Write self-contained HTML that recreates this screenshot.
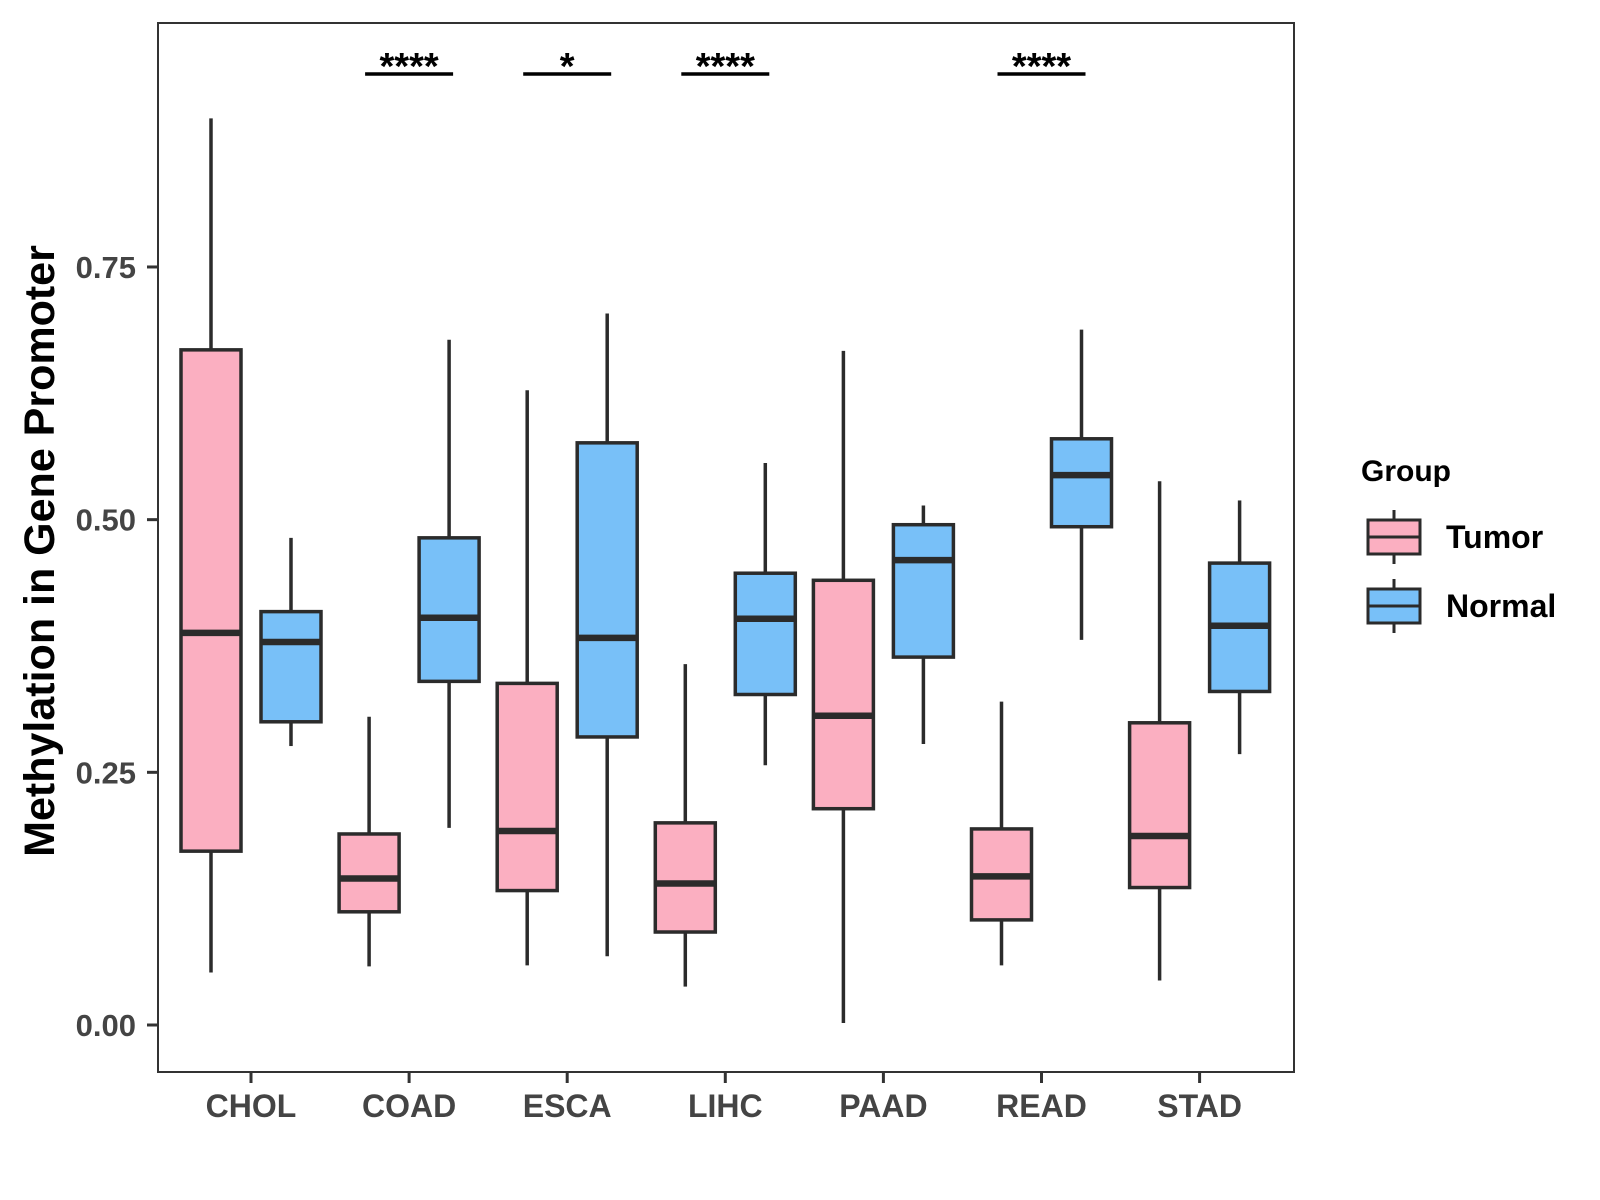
<!DOCTYPE html>
<html><head><meta charset="utf-8"><style>
html,body{margin:0;padding:0;background:#fff;}
svg{display:block;font-family:"Liberation Sans",Arial,sans-serif;}
</style></head><body>
<svg id="chart" width="1600" height="1200" viewBox="0 0 1600 1200">
<rect x="0" y="0" width="1600" height="1200" fill="#fff"/>
<g id="plot"></g>
</svg>
<script>
const categories = ["CHOL","COAD","ESCA","LIHC","PAAD","READ","STAD"];
const tumorStats = [
 [0.052,0.172,0.388,0.668,0.897],
 [0.058,0.112,0.145,0.189,0.305],
 [0.059,0.133,0.192,0.338,0.628],
 [0.038,0.092,0.140,0.200,0.357],
 [0.002,0.214,0.306,0.440,0.667],
 [0.059,0.104,0.147,0.194,0.320],
 [0.044,0.136,0.187,0.299,0.538]];
const normalStats = [
 [0.276,0.300,0.379,0.409,0.482],
 [0.195,0.340,0.403,0.482,0.678],
 [0.068,0.285,0.383,0.576,0.704],
 [0.257,0.327,0.402,0.447,0.556],
 [0.278,0.364,0.460,0.495,0.514],
 [0.381,0.493,0.544,0.580,0.688],
 [0.268,0.330,0.395,0.457,0.519]];
const sigLabels = ["","****","*","****","","****",""];
const yTicks = [0,0.25,0.5,0.75];
const yTickLabels = ["0.00","0.25","0.50","0.75"];

const NS="http://www.w3.org/2000/svg";
const g=document.getElementById('plot');
const L=158,R=1294,T=23,B=1072;
const y=v=>1025-v*1010.7;
const x=i=>251+i*158.1;
function el(tag,attrs,parent){const e=document.createElementNS(NS,tag);for(const k in attrs)e.setAttribute(k,attrs[k]);(parent||g).appendChild(e);return e;}

const frame=el('rect',{x:L,y:T,width:R-L,height:B-T,fill:'none',stroke:'#333',"stroke-width":2});



yTicks.forEach((v,i)=>{
 const t=el('line',{x1:L-11,x2:L,y1:y(v),y2:y(v),stroke:'#333',"stroke-width":3});
 
 
 const lb=el('text',{x:L-22,y:y(v)+11,"text-anchor":'end',"font-size":31,"font-weight":'bold',fill:'#444'});
 lb.textContent=yTickLabels[i];
 
 
});

function box(cx,s,fill,name){
 const gg=el('g',{});
 
 
 el('line',{x1:cx,x2:cx,y1:y(s[4]),y2:y(s[3]),stroke:'#2b2b2b',"stroke-width":3.5},gg);
 el('line',{x1:cx,x2:cx,y1:y(s[1]),y2:y(s[0]),stroke:'#2b2b2b',"stroke-width":3.5},gg);
 el('rect',{x:cx-30,y:y(s[3]),width:60,height:y(s[1])-y(s[3]),fill:fill,stroke:'#2b2b2b',"stroke-width":3.5},gg);
 el('line',{x1:cx-30,x2:cx+30,y1:y(s[2]),y2:y(s[2]),stroke:'#2b2b2b',"stroke-width":6.5},gg);
}

categories.forEach((c,i)=>{
 box(x(i)-40,tumorStats[i],'#FBAFC1','box-tumor-'+c.toLowerCase());
 box(x(i)+40,normalStats[i],'#78C0F8','box-normal-'+c.toLowerCase());
 const t=el('line',{x1:x(i),x2:x(i),y1:B,y2:B+11,stroke:'#333',"stroke-width":3});
 
 
 const lb=el('text',{x:x(i),y:B+45,"text-anchor":'middle',"font-size":32,"font-weight":'bold',fill:'#444'});
 lb.textContent=c;
 
 
 if(sigLabels[i]){
  const sl=el('line',{x1:x(i)-44,x2:x(i)+44,y1:74,y2:74,stroke:'#000',"stroke-width":3.5});
  
  
  const st=el('text',{x:x(i),y:79,"text-anchor":'middle',"font-size":38,"font-weight":'bold',fill:'#000'});
  st.textContent=sigLabels[i];
  
  
 }
});

const yt=el('text',{x:0,y:0,transform:'translate(54,551) rotate(-90)',"text-anchor":'middle',"font-size":43,"font-weight":'bold',fill:'#000'});
yt.textContent='Methylation in Gene Promoter';



const lg=el('g',{transform:'translate(-8,-3)'});


const lt=el('text',{x:1369,y:484,"font-size":30,"font-weight":'bold',fill:'#000'},lg);
lt.textContent='Group';


[['Tumor','#FBAFC1',540],['Normal','#78C0F8',609]].forEach(([n,f,cy])=>{
 const e=el('g',{},lg);
 
 
 el('line',{x1:1402,x2:1402,y1:cy-27,y2:cy+27,stroke:'#2b2b2b',"stroke-width":3},e);
 el('rect',{x:1376,y:cy-17,width:52,height:34,fill:f,stroke:'#2b2b2b',"stroke-width":3},e);
 el('line',{x1:1376,x2:1428,y1:cy,y2:cy,stroke:'#2b2b2b',"stroke-width":3},e);
 const tx=el('text',{x:1454,y:cy+11,"font-size":32,"font-weight":'bold',fill:'#000'},e);
 tx.textContent=n;
});
</script>
</body></html>
